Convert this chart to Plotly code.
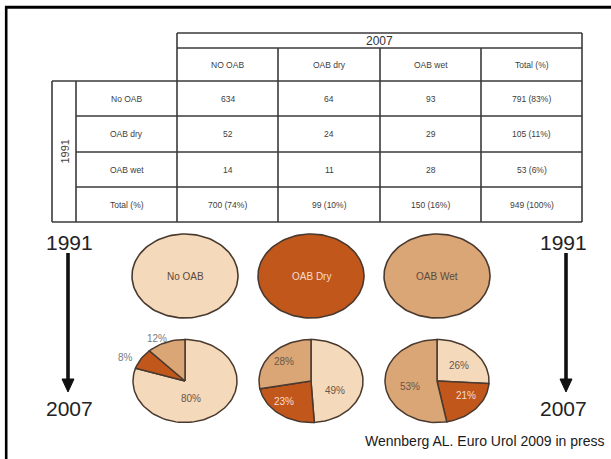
import math
import plotly.graph_objects as go

# ---------------- data ----------------
states_1991 = ["No OAB", "OAB dry", "OAB wet"]
states_2007 = ["NO OAB", "OAB dry", "OAB wet"]
counts = [[634, 64, 93],
          [52, 24, 29],
          [14, 11, 28]]
row_totals = ["791 (83%)", "105 (11%)", "53 (6%)"]
col_totals = ["700 (74%)", "99 (10%)", "150 (16%)"]
grand_total = "949 (100%)"
total_label = "Total (%)"
year_from = "1991"
year_to = "2007"
group_names = ["No OAB", "OAB Dry", "OAB Wet"]
# share (%) of each 1991 group ending up in No OAB / OAB dry / OAB wet in 2007
transition_pct = [[80, 8, 12],
                  [49, 23, 28],
                  [26, 21, 53]]
citation = "Wennberg AL. Euro Urol 2009 in press"

# ---------------- layout constants ----------------
W, H = 611, 459
FONT = "Arial, 'Liberation Sans', sans-serif"
col_x = [52, 76, 177, 278, 380, 481, 582]   # table column boundaries
row_y = [33, 48, 81, 116, 152, 187, 222]    # table row boundaries
group_cx = [185, 311, 437]
top_cy, top_rx, top_ry = 276, 53, 42
pie_cy, pie_rx, pie_ry = 381, 52, 41.5
fills = ["#F4D9BA", "#C2571C", "#DAA676"]
edge = "#4a392e"
label_dark = "#6a5648"
label_light = "#F6DCCD"
# label placement per slice: radial factor and angular nudge (degrees)
label_r = [[0.43, 1.28, 1.16], [0.51, 0.71, 0.70], [0.56, 0.65, 0.53]]
label_turn = [[20, -6, -6], [27, 9, 2], [1, -9, -8]]
grid_col = "#3a3a3a"

fig = go.Figure()
shapes = []
annotations = []


def line(x0, y0, x1, y1, color=grid_col, width=1.6):
    shapes.append(dict(type="line", xref="x", yref="y", x0=x0, y0=y0, x1=x1, y1=y1,
                       line=dict(color=color, width=width)))


def text(x, y, s, size, color="#3c3c3c", angle=0, xanchor="center"):
    annotations.append(dict(x=x, y=y, xref="x", yref="y", text=s, showarrow=False,
                            xanchor=xanchor, yanchor="middle", textangle=angle,
                            font=dict(family=FONT, size=size, color=color)))


def ellipse_pts(cx, cy, rx, ry, a0, a1, with_center=True):
    steps = max(3, int(120 * (a1 - a0) / 360) + 2)
    xs, ys = ([cx], [cy]) if with_center else ([], [])
    for k in range(steps):
        t = math.radians(a0 + (a1 - a0) * k / (steps - 1))
        xs.append(cx + rx * math.sin(t))
        ys.append(cy - ry * math.cos(t))
    if with_center:
        xs.append(cx)
        ys.append(cy)
    else:
        xs.append(xs[0])
        ys.append(ys[0])
    return xs, ys


# ---------------- frame ----------------
line(5, 7.3, W, 7.3, color="#000000", width=3)
line(6.2, 6, 6.2, H, color="#000000", width=2.6)

# ---------------- table grid ----------------
line(col_x[2], row_y[0], col_x[6], row_y[0])
line(col_x[2], row_y[1], col_x[6], row_y[1])
line(col_x[0], row_y[2], col_x[6], row_y[2])
for r in range(3, 6):
    line(col_x[1], row_y[r], col_x[6], row_y[r])
line(col_x[0], row_y[6], col_x[6], row_y[6])
line(col_x[0], row_y[2], col_x[0], row_y[6])
line(col_x[1], row_y[2], col_x[1], row_y[6])
line(col_x[2], row_y[0], col_x[2], row_y[6])
line(col_x[6], row_y[0], col_x[6], row_y[6])
for c in range(3, 6):
    line(col_x[c], row_y[1], col_x[c], row_y[6])

# ---------------- table text ----------------
def cx_of(c):
    return (col_x[c] + col_x[c + 1]) / 2


def cy_of(r):
    return (row_y[r] + row_y[r + 1]) / 2


text((col_x[2] + col_x[6]) / 2, cy_of(0), year_to, 12, color="#333333")
for j, name in enumerate(states_2007 + [total_label]):
    text(cx_of(2 + j), cy_of(1), name, 8.5)
text(cx_of(0), (row_y[2] + row_y[6]) / 2, year_from, 11, color="#444444", angle=-90)
for i, name in enumerate(states_1991):
    text(cx_of(1), cy_of(2 + i), name, 8.5)
    for j, v in enumerate(counts[i]):
        text(cx_of(2 + j), cy_of(2 + i), str(v), 8.5)
    text(cx_of(5), cy_of(2 + i), row_totals[i], 8.5)
text(cx_of(1), cy_of(5), total_label, 8.5)
for j, s in enumerate(col_totals):
    text(cx_of(2 + j), cy_of(5), s, 8.5)
text(cx_of(5), cy_of(5), grand_total, 8.5)

# ---------------- 1991 groups (top ellipses) ----------------
for g, name in enumerate(group_names):
    xs, ys = ellipse_pts(group_cx[g], top_cy, top_rx, top_ry, 0, 360, with_center=False)
    fig.add_trace(go.Scatter(x=xs, y=ys, mode="lines", fill="toself", fillcolor=fills[g],
                             line=dict(color=edge, width=1.6), hoverinfo="skip",
                             showlegend=False))
    text(group_cx[g], top_cy, name, 10, color=label_light if g == 1 else "#5a4a40")

# ---------------- 2007 outcome pies ----------------
for g, shares in enumerate(transition_pct):
    total = sum(shares)
    start = 0.0
    for s, v in enumerate(shares):
        a0 = start
        a1 = start + 360.0 * v / total
        xs, ys = ellipse_pts(group_cx[g], pie_cy, pie_rx, pie_ry, a0, a1)
        fig.add_trace(go.Scatter(x=xs, y=ys, mode="lines", fill="toself", fillcolor=fills[s],
                                 line=dict(color=edge, width=1.5), hoverinfo="skip",
                                 showlegend=False))
        mid = math.radians((a0 + a1) / 2 + label_turn[g][s])
        f = label_r[g][s]
        lx = group_cx[g] + pie_rx * f * math.sin(mid)
        ly = pie_cy - pie_ry * f * math.cos(mid)
        if f > 1:
            col = "#7b7b7b"
        elif s == 1:
            col = label_light
        else:
            col = label_dark
        text(lx, ly, f"{v}%", 10, color=col)
        start = a1

# ---------------- time arrows ----------------
for ax_x, tx in [(68, 69), (566, 563)]:
    text(tx, 242, year_from, 21, color="#222222")
    text(tx, 408, year_to, 21, color="#222222")
    line(ax_x, 253, ax_x, 381, color="#111111", width=3.6)
    shapes.append(dict(type="path", xref="x", yref="y",
                       path=f"M {ax_x - 6},{379} L {ax_x + 6},{379} L {ax_x},{392} Z",
                       fillcolor="#111111", line=dict(color="#111111", width=1)))

# ---------------- citation ----------------
text(606, 441, citation, 14, color="#1a1a1a", xanchor="right")

fig.update_layout(
    width=W, height=H,
    margin=dict(l=0, r=0, t=0, b=0),
    paper_bgcolor="white", plot_bgcolor="white",
    xaxis=dict(range=[0, W], visible=False, fixedrange=True),
    yaxis=dict(range=[H, 0], visible=False, fixedrange=True),
    shapes=shapes, annotations=annotations,
    showlegend=False,
)

fig.write_html("out.html")
